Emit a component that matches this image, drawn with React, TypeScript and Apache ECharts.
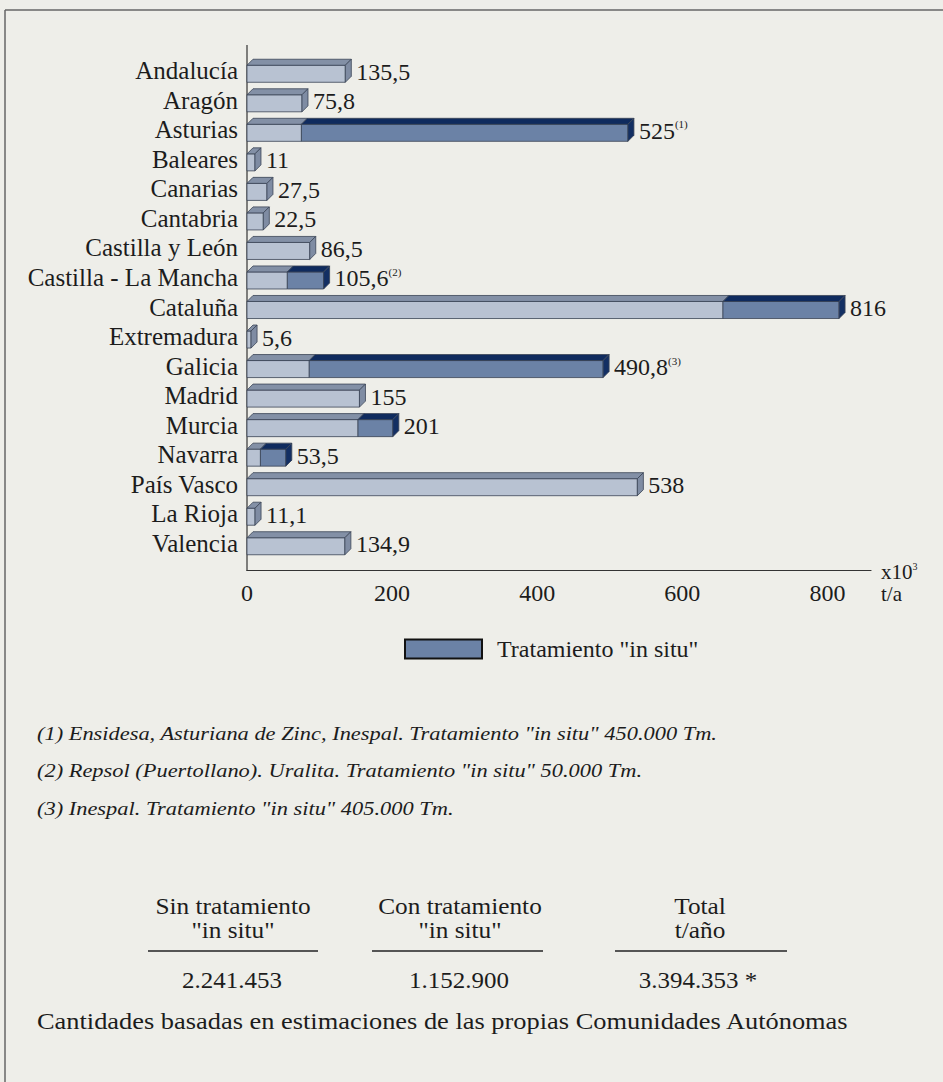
import React, { useEffect, useRef } from "react";
import * as echarts from "echarts";

const categories = [
  "Andalucía", "Aragón", "Asturias", "Baleares", "Canarias", "Cantabria",
  "Castilla y León", "Castilla - La Mancha", "Cataluña", "Extremadura",
  "Galicia", "Madrid", "Murcia", "Navarra", "País Vasco", "La Rioja", "Valencia",
];
const totals = [135.5, 75.8, 525, 11, 27.5, 22.5, 86.5, 105.6, 816, 5.6, 490.8, 155, 201, 53.5, 538, 11.1, 134.9];
const inSitu = [0, 0, 450, 0, 0, 0, 0, 50, 160, 0, 405, 0, 48, 35, 0, 0, 0];
const notes = ["", "", "(1)", "", "", "", "", "(2)", "", "", "(3)", "", "", "", "", "", ""];
const xTicks = { min: 0, max: 860, interval: 200 };
const footnotes = [
  '(1) Ensidesa, Asturiana de Zinc, Inespal. Tratamiento "in situ" 450.000 Tm.',
  '(2) Repsol (Puertollano). Uralita. Tratamiento "in situ" 50.000 Tm.',
  '(3) Inespal. Tratamiento "in situ" 405.000 Tm.',
];
const tableHeads = [["Sin tratamiento", '"in situ"'], ["Con tratamiento", '"in situ"'], ["Total", "t/año"]];
const tableValues = ["2.241.453", "1.152.900", "3.394.353 *"];
const footer = "Cantidades basadas en estimaciones de las propias Comunidades Autónomas";
const legendName = 'Tratamiento "in situ"';

const FONT = "'Liberation Serif', 'Times New Roman', serif";
const INK = "#1c1c1c";
const BG = "#eeeee9";

const lightData = categories.map((_, i) => [0, totals[i] - inSitu[i], i, inSitu[i] > 0 ? 0 : 1]);
const situData = categories
  .map((_, i) => [totals[i] - inSitu[i], totals[i], i, 1])
  .filter((d) => d[1] - d[0] > 0);

const fmt = (v: number) => String(v).replace(".", ",");

function makeRender(front: string, topFill: string, cap: string) {
  return (params: any, api: any) => {
    const start = api.value(0);
    const end = api.value(1);
    const cat = api.value(2);
    const last = api.value(3);
    const p0 = api.coord([start, cat]);
    const p1 = api.coord([end, cat]);
    const band = api.size([0, 1])[1];
    const total = band * 0.78;
    const d = 6;
    const top = p0[1] - total / 2;
    const bottom = p0[1] + total / 2;
    const x0 = p0[0];
    const x1 = p1[0];
    const outline = "#3a4456";
    const children: any[] = [
      {
        type: "rect",
        shape: { x: x0, y: top + d, width: x1 - x0, height: bottom - top - d },
        style: { fill: front, stroke: outline, lineWidth: 0.8 },
      },
      {
        type: "polygon",
        shape: { points: [[x0, top + d], [x0 + d, top], [x1 + d, top], [x1, top + d]] },
        style: { fill: topFill, stroke: outline, lineWidth: 0.8 },
      },
    ];
    if (last) {
      children.push({
        type: "polygon",
        shape: { points: [[x1, top + d], [x1 + d, top], [x1 + d, bottom - d], [x1, bottom]] },
        style: { fill: cap, stroke: outline, lineWidth: 0.8 },
      });
      const note = notes[cat];
      const val = fmt(totals[cat]);
      children.push({
        type: "text",
        x: x1 + d + 5,
        y: (top + bottom) / 2 + 1,
        style: {
          text: note ? `{v|${val}}{s|${note}}` : `{v|${val}}`,
          align: "left",
          verticalAlign: "middle",
          rich: {
            v: { fontSize: 24, fontFamily: FONT, fill: INK, lineHeight: 24 },
            s: { fontSize: 11, fontFamily: FONT, fill: INK, verticalAlign: "top", lineHeight: 11 },
          },
        },
      });
    }
    return { type: "group", children };
  };
}

export default function App() {
  const ref = useRef<HTMLDivElement>(null);
  useEffect(() => {
    document.body.style.margin = "0";
    document.body.style.background = BG;
    const chart = echarts.init(ref.current!, null, { renderer: "svg" });
    const text = (t: string, x: number, y: number, opts: any = {}) => ({
      type: "text",
      x,
      y,
      scaleX: opts.scaleX ?? 1,
      style: {
        text: t,
        fontFamily: FONT,
        fontSize: opts.fontSize ?? 20,
        fontStyle: opts.fontStyle ?? "normal",
        fill: INK,
        align: opts.align ?? "left",
        verticalAlign: "middle",
      },
    });
    const hline = (x1: number, x2: number, y: number, w = 1.5, c = "#555") => ({
      type: "line",
      shape: { x1, y1: y, x2, y2: y },
      style: { stroke: c, lineWidth: w },
    });
    const headX = [233, 460, 700];
    const valX = [232, 459, 698];
    const graphics: any[] = [
      hline(5, 943, 10, 1.5, "#666"),
      { type: "line", shape: { x1: 5, y1: 10, x2: 5, y2: 1082 }, style: { stroke: "#666", lineWidth: 1.5 } },
      { type: "line", shape: { x1: 247, y1: 45, x2: 247, y2: 571 }, style: { stroke: "#333", lineWidth: 1.2 } },
      {
        type: "text",
        x: 881,
        y: 583,
        style: {
          text: "{a|x10}{b|3}\n{a|t/a}",
          verticalAlign: "middle",
          rich: {
            a: { fontSize: 21, fontFamily: FONT, fill: INK, lineHeight: 22 },
            b: { fontSize: 10, fontFamily: FONT, fill: INK, verticalAlign: "top", lineHeight: 10 },
          },
        },
      },
      ...footnotes.map((f, i) => text(f, 37, 733 + i * 37.5, { fontSize: 19, fontStyle: "italic", scaleX: 1.18 })),
      ...tableHeads.flatMap((h, i) => [
        text(h[0], headX[i], 906, { fontSize: 23, align: "center", scaleX: 1.1 }),
        text(h[1], headX[i], 930, { fontSize: 23, align: "center", scaleX: 1.1 }),
      ]),
      hline(148, 318, 951, 2),
      hline(372, 543, 951, 2),
      hline(615, 787, 951, 2),
      ...tableValues.map((v, i) => text(v, valX[i], 980, { fontSize: 24, align: "center", scaleX: 1.04 })),
      text(footer, 37, 1021, { fontSize: 24, scaleX: 1.1 }),
    ];
    chart.setOption({
      animation: false,
      backgroundColor: BG,
      textStyle: { fontFamily: FONT },
      grid: { left: 247, right: 72, top: 56, bottom: 1082 - 558, containLabel: false },
      legend: {
        data: [legendName],
        left: 399,
        top: 632,
        itemWidth: 77,
        itemHeight: 19,
        icon: "rect",
        itemStyle: { color: "#6b82a6", borderColor: "#111", borderWidth: 2 },
        textStyle: { fontSize: 24, fontFamily: FONT, color: INK, padding: [0, 0, 0, 10] },
      },
      xAxis: {
        type: "value",
        min: xTicks.min,
        max: xTicks.max,
        interval: xTicks.interval,
        offset: 12,
        axisLine: { show: true, lineStyle: { color: "#333", width: 1.2 } },
        axisTick: { show: false },
        splitLine: { show: false },
        axisLabel: { fontSize: 24, fontFamily: FONT, color: INK, margin: 11, showMaxLabel: false },
      },
      yAxis: {
        type: "category",
        data: categories,
        inverse: true,
        axisLine: { show: false },
        axisTick: { show: false },
        axisLabel: { fontSize: 25, fontFamily: FONT, color: INK, margin: 9, interval: 0 },
      },
      series: [
        {
          type: "custom",
          name: "Sin tratamiento",
          renderItem: makeRender("#b8c2d2", "#8390a6", "#7f8ca3"),
          encode: { x: [0, 1], y: 2 },
          data: lightData,
          itemStyle: { color: "#b8c2d2" },
        },
        {
          type: "custom",
          name: legendName,
          renderItem: makeRender("#6b82a6", "#0f2b5e", "#132f63"),
          encode: { x: [0, 1], y: 2 },
          data: situData,
          itemStyle: { color: "#6b82a6" },
        },
      ],
      graphic: graphics,
    });
    return () => chart.dispose();
  }, []);
  return <div ref={ref} style={{ width: 943, height: 1082 }} />;
}
